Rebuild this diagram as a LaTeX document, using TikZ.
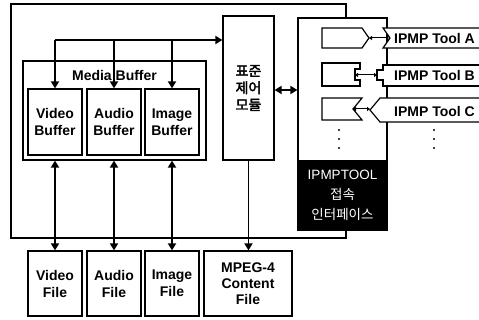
\documentclass[tikz,border=0pt]{standalone}
\usepackage{fontspec}
\setmainfont{Liberation Sans}
\newfontfamily\kr{Noto Sans CJK KR}
\newfontfamily\krbold{Noto Sans CJK KR}[FakeBold=2.5]
\usetikzlibrary{arrows.meta,calc,positioning}

\tikzset{
  box/.style={draw,line width=1.2pt,fill=white,align=center,inner sep=0pt,
    font=\bfseries\fontsize{14}{17}\selectfont},
  arr/.style={line width=1.8pt,-{Triangle[length=7pt,width=8pt]}},
  dbl/.style={line width=1.8pt,{Triangle[length=7pt,width=8pt]}-{Triangle[length=7pt,width=8pt]}},
  tinyarr/.style={line width=1pt,{Triangle[length=3pt,width=4pt]}-{Triangle[length=3pt,width=4pt]}},
  plug/.style={draw,line width=1.2pt,fill=white},
  toollabel/.style={anchor=west,inner sep=0pt,font=\bfseries\fontsize{14}{15}\selectfont}
}

\begin{document}
\begin{tikzpicture}[x=1pt,y=-1pt]
        \useasboundingbox (0,0) rectangle (479,320);
        % outer frame
        \draw[line width=1.2pt] (11,4) rectangle (346,238);
        % media buffer
        \node[box,minimum width=183pt,minimum height=99pt] (mbuf) at (114.5,110.5) {};
        \node[font=\bfseries\fontsize{14}{15}\selectfont,inner sep=0pt] (mbuftitle) at (114.5,75) {Media Buffer};
        \node[box,minimum width=54pt,minimum height=66pt] (vbuf) at (55,122) {Video\\Buffer};
        \node[box,minimum width=54pt,minimum height=66pt] (abuf) at (114,122) {Audio\\Buffer};
        \node[box,minimum width=54pt,minimum height=66pt] (ibuf) at (172,122) {Image\\Buffer};
        % control module
        \node[box,font=\krbold\fontsize{14}{17}\selectfont,
          minimum width=51pt,minimum height=144pt] (ctrl) at (248.5,88) {표준\\제어\\모듈};
        % files
        \node[box,minimum width=54pt,minimum height=65pt] (vfile) at (55,283.5) {Video\\File};
        \node[box,minimum width=54pt,minimum height=65pt] (afile) at (114,283.5) {Audio\\File};
        \node[box,minimum width=54pt,minimum height=65pt] (ifile) at (172,283.5) {Image\\File};
        \node[box,font=\bfseries\fontsize{14}{16}\selectfont,
          minimum width=88pt,minimum height=65pt] (mfile) at (248,283.5) {MPEG-4\\Content\\File};
        % IPMP tool interface
        \node[box,minimum width=89pt,minimum height=212pt] (ipmp) at (342.5,124) {};
        \node[draw,fill=black,text=white,line width=1.2pt,minimum width=89pt,minimum height=69pt,
          align=center,inner sep=0pt,font=\fontsize{13.5}{20}\selectfont] (ipif) at (342.5,195.5)
          {IPMPTOOL\\{\kr 접속}\\{\kr 인터페이스}};

        % slots and tools
        \draw[plug] (322,28) -- (362,28) -- (369,38) -- (362,48) -- (322,48) -- cycle;
        \draw[plug] (479,28) -- (383,28) -- (390,38) -- (383,48) -- (479,48);
        \draw[plug] (322,63) -- (360,63) -- (360,69) -- (355,69) -- (355,80) -- (360,80)
          -- (360,86) -- (322,86) -- cycle;
        \draw[plug] (479,65) -- (383,65) -- (383,70) -- (377,70) -- (377,80) -- (383,80)
          -- (383,86) -- (479,86);
        \draw[plug] (322,98) -- (362,98) -- (353,109) -- (362,120) -- (322,120) -- cycle;
        \draw[plug] (479,98) -- (380,98) -- (370,110) -- (380,122) -- (479,122);
        \coordinate (slotA) at (369,38);
        \coordinate (plugA) at (389,38);
        \coordinate (slotB) at (355,75);
        \coordinate (plugB) at (377,75);
        \coordinate (slotC) at (353,109);
        \coordinate (plugC) at (370,109);
        \node[toollabel] (toolA) at (394,38) {IPMP Tool A};
        \node[toollabel] (toolB) at (394,75) {IPMP Tool B};
        \node[toollabel] (toolC) at (394,111) {IPMP Tool C};
        \draw[tinyarr] (slotA) -- (plugA);
        \draw[tinyarr] (slotB) -- (plugB);
        \draw[tinyarr] (slotC) -- (plugC);
        \foreach \y in {130,139,148} {
          \fill (339,\y) circle (1.1pt);
          \fill (434,\y) circle (1.1pt);
        }

        % connectors
        \coordinate (bus) at (55,40);
        \draw[arr] (bus) -- (bus -| ctrl.west);
        \draw[arr] (bus) -- (vbuf);
        \draw[arr] (abuf.north |- bus) -- (abuf);
        \draw[arr] (ibuf.north |- bus) -- (ibuf);
        \draw[dbl] (vbuf.south |- mbuf.south) -- (vfile);
        \draw[dbl] (abuf.south |- mbuf.south) -- (afile);
        \draw[dbl] (ibuf.south |- mbuf.south) -- (ifile);
        \draw[arr] (ctrl.south) -- (ctrl.south |- mfile.north);
        \draw[dbl] ([yshift=-2pt]ctrl.east) -- ([yshift=-2pt]ctrl.east -| ipmp.west);
\end{tikzpicture}
\end{document}
